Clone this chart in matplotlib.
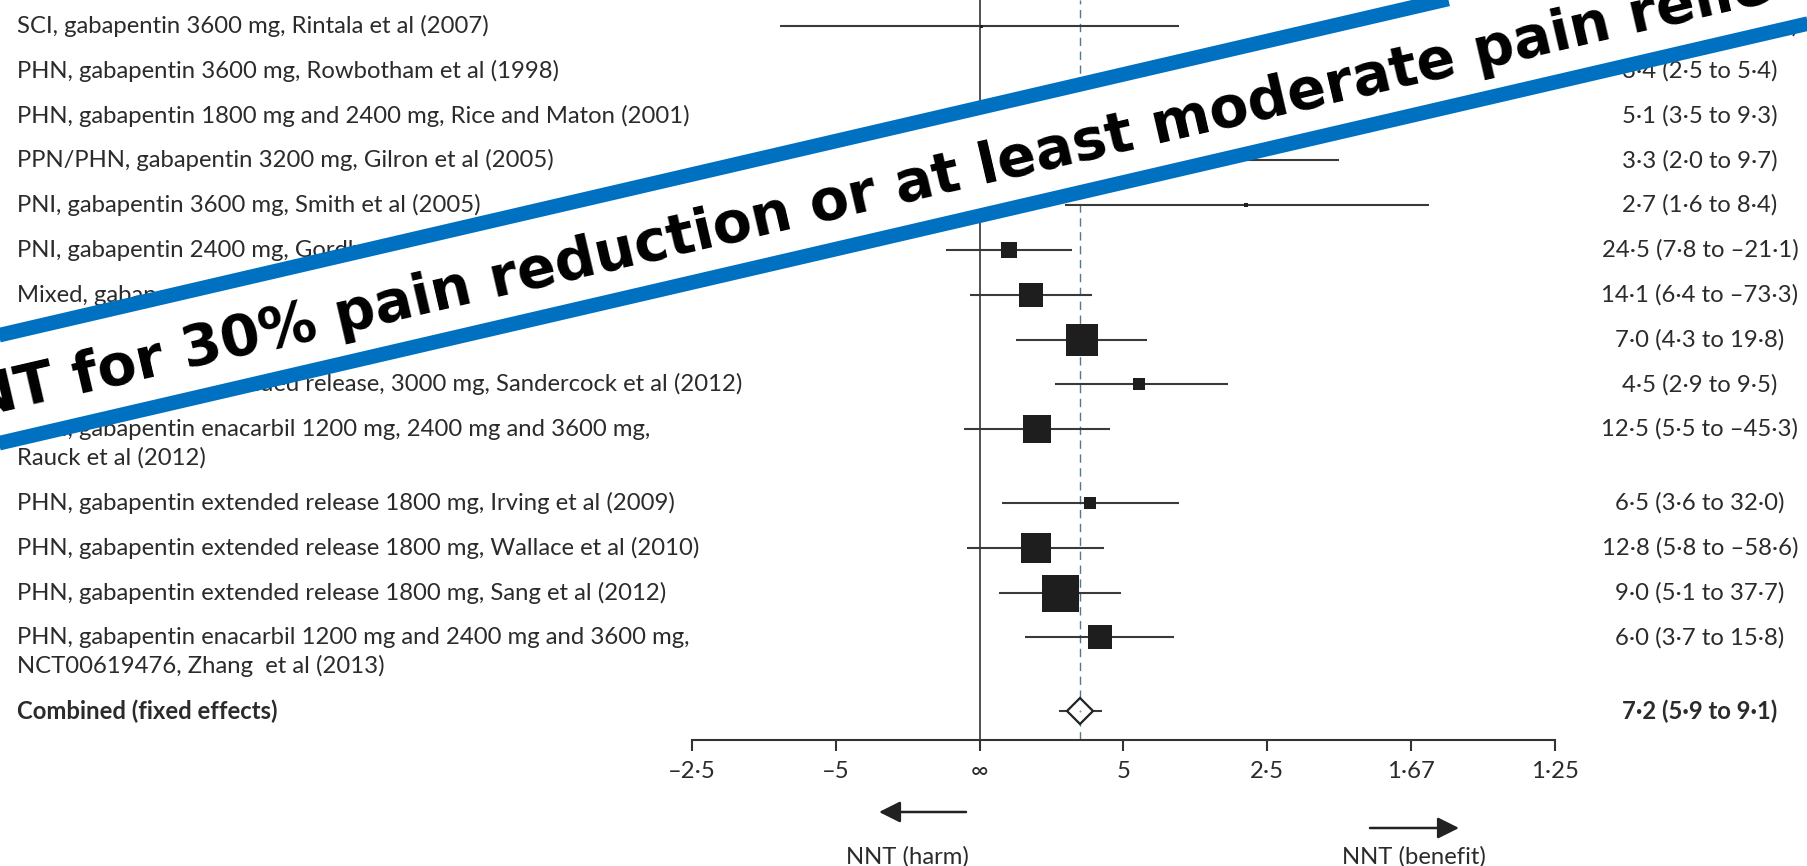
import math

import matplotlib
matplotlib.use("Agg")
import matplotlib.pyplot as plt
import matplotlib.transforms as mtransforms
from matplotlib.patches import Polygon

# Study rows, top to bottom
labels = [
    "SCI, gabapentin 3600 mg, Rintala et al (2007)",
    "PHN, gabapentin 3600 mg, Rowbotham et al (1998)",
    "PHN, gabapentin 1800 mg and 2400 mg, Rice and Maton (2001)",
    "PPN/PHN, gabapentin 3200 mg, Gilron et al (2005)",
    "PNI, gabapentin 3600 mg, Smith et al (2005)",
    "PNI, gabapentin 2400 mg, Gordh et al (2008)",
    "Mixed, gabapentin 2400 mg, Serpell (2002)",
    "DPN, gabapentin, Backonja (1998)",
    "DPN, gabapentin extended release, 3000 mg, Sandercock et al (2012)",
    "DPN, gabapentin enacarbil 1200 mg, 2400 mg and 3600 mg,\nRauck et al (2012)",
    "PHN, gabapentin extended release 1800 mg, Irving et al (2009)",
    "PHN, gabapentin extended release 1800 mg, Wallace et al (2010)",
    "PHN, gabapentin extended release 1800 mg, Sang et al (2012)",
    "PHN, gabapentin enacarbil 1200 mg and 2400 mg and 3600 mg,\nNCT00619476, Zhang  et al (2013)",
]
nnt = [500.0, 3.4, 5.1, 3.3, 2.7, 24.5, 14.1, 7.0, 4.5, 12.5, 6.5, 12.8, 9.0, 6.0]
nnt_lo = [3.6, 2.5, 3.5, 2.0, 1.6, 7.8, 6.4, 4.3, 2.9, 5.5, 3.6, 5.8, 5.1, 3.7]
nnt_hi = [-3.6, 5.4, 9.3, 9.7, 8.4, -21.1, -73.3, 19.8, 9.5, -45.3, 32.0, -58.6, 37.7, 15.8]
weight = [0.1, 6.8, 11.0, 0.9, 0.2, 4.0, 8.7, 14.3, 2.0, 10.2, 2.0, 12.6, 19.1, 8.0]

pooled_label = "Combined (fixed effects)"
pooled_nnt, pooled_lo, pooled_hi = 7.2, 5.9, 9.1

# x axis is risk difference, labelled as NNT
tick_rd = [-0.4, -0.2, 0.0, 0.2, 0.4, 0.6, 0.8]
tick_labels = ["–2·5", "–5", "∞", "5", "2·5", "1·67", "1·25"]

banner_text = "NNT for 30% pain reduction or at least moderate pain relief"

# Layout (pixels)
W, H = 1808, 866
AXIS_Y = 740
ROW0, STEP, LINE_GAP = 26, 44.8, 29
LABEL_X, VALUE_X = 17, 1700
TEXT = "#2b2b2b"
INK = "#1e1e1e"

plt.rcParams["font.family"] = ["Lato", "DejaVu Sans"]
FS = 17.2


def fmt(v):
    return f"{v:.1f}".replace(".", "·").replace("-", "–")


def ci_text(n, lo, hi):
    return f"{fmt(n)} ({fmt(lo)} to {fmt(hi)})"


# Row positions follow the number of label lines
ys = []
y = ROW0
for lab in labels:
    ys.append(y)
    y += STEP + LINE_GAP * lab.count("\n")
pooled_y = y

fig = plt.figure(figsize=(W / 100, H / 100), dpi=100)
fig.patch.set_facecolor("white")

# Forest plot axes
ax = fig.add_axes([692 / W, (H - AXIS_Y) / H, (1555 - 692) / W, AXIS_Y / H])
ax.set_xlim(tick_rd[0], tick_rd[-1])
ax.set_ylim(AXIS_Y, 0)
for side in ["left", "top", "right"]:
    ax.spines[side].set_visible(False)
ax.spines["bottom"].set_linewidth(1.5)
ax.spines["bottom"].set_color("#333333")
ax.set_yticks([])
ax.set_xticks(tick_rd)
ax.set_xticklabels(tick_labels, fontsize=FS, color=TEXT)
ax.tick_params(axis="x", direction="out", length=8, width=1.5, color="#333333", pad=7)

ax.axvline(0, color="#333333", lw=1.2, zorder=1)
ax.axvline(1 / pooled_nnt, color="#56788a", lw=1.0, linestyle=(0, (6, 4)), zorder=1)

px_to_pt = 72 / 100
for yi, n, lo, hi, w in zip(ys, nnt, nnt_lo, nnt_hi, weight):
    rd_a, rd_b = sorted([1 / lo, 1 / hi])
    ax.hlines(yi, rd_a, rd_b, color="#3a3a3a", lw=1.5, zorder=2)
    side = 37 * math.sqrt(w / max(weight))
    ax.plot(1 / n, yi, marker="s", ms=max(side, 3) * px_to_pt, color=INK, mew=0, zorder=3)

# Pooled estimate
ax.hlines(pooled_y, 1 / pooled_hi, 1 / pooled_lo, color="#3a3a3a", lw=1.5, zorder=2)
ax.plot(1 / pooled_nnt, pooled_y, marker="D", ms=13, mfc="white", mec="#222222", mew=1.6, zorder=3)
ax.plot(1 / pooled_nnt, pooled_y, marker="o", ms=1.5, color="#999999", mew=0, zorder=4)

# Row labels and values
lab_tr = mtransforms.blended_transform_factory(fig.transFigure, ax.transData)
for yi, lab, n, lo, hi in zip(ys, labels, nnt, nnt_lo, nnt_hi):
    for k, line in enumerate(lab.split("\n")):
        ax.text(LABEL_X / W, yi + k * LINE_GAP, line, transform=lab_tr, fontsize=FS,
                color=TEXT, ha="left", va="center", clip_on=False)
    ax.text(VALUE_X / W, yi, ci_text(n, lo, hi), transform=lab_tr, fontsize=FS,
            color=TEXT, ha="center", va="center", clip_on=False)
ax.text(LABEL_X / W, pooled_y, pooled_label, transform=lab_tr, fontsize=FS,
        color=TEXT, ha="left", va="center", fontweight="bold", clip_on=False)
ax.text(VALUE_X / W, pooled_y, ci_text(pooled_nnt, pooled_lo, pooled_hi), transform=lab_tr,
        fontsize=FS, color=TEXT, ha="center", va="center", fontweight="bold", clip_on=False)

# Overlay in pixel coordinates: direction arrows and the banner
ov = fig.add_axes([0, 0, 1, 1])
ov.set_xlim(0, W)
ov.set_ylim(H, 0)
ov.axis("off")
ov.set_zorder(5)

arrow = dict(arrowstyle="-|>,head_length=13,head_width=6.5", mutation_scale=1,
             lw=1.8, color="#222222", shrinkA=0, shrinkB=0)
ov.annotate("", xy=(879, 812), xytext=(966, 812), arrowprops=arrow)
ov.annotate("", xy=(1459, 828), xytext=(1370, 828), arrowprops=arrow)
ov.text(907, 857, "NNT (harm)", fontsize=FS, color=TEXT, ha="center", va="center")
ov.text(1414, 857, "NNT (benefit)", fontsize=FS, color=TEXT, ha="center", va="center")

# Diagonal banner
slope = 0.232
theta = math.atan(slope)
y0, half_gap = 389, 54
xs = [-60, W + 60]
upper = [y0 - half_gap - slope * x for x in xs]
lower = [y0 + half_gap - slope * x for x in xs]
ov.add_patch(Polygon([(xs[0], upper[0]), (xs[1], upper[1]), (xs[1], lower[1]), (xs[0], lower[0])],
                     closed=True, facecolor="white", edgecolor="none", zorder=1))
ov.plot(xs, upper, color="#0070C0", lw=10.5, solid_capstyle="butt", zorder=2)
ov.plot(xs, lower, color="#0070C0", lw=10.5, solid_capstyle="butt", zorder=2)

s_start, baseline_off = -80, 23
bx = s_start * math.cos(theta) + baseline_off * math.sin(theta)
by = y0 - s_start * math.sin(theta) + baseline_off * math.cos(theta)
ov.text(bx, by, banner_text, fontsize=41, fontweight="bold", family="DejaVu Sans",
        color="black", rotation=math.degrees(theta), rotation_mode="anchor",
        ha="left", va="baseline", zorder=3)

fig.savefig("out.png", dpi=100, facecolor="white")
